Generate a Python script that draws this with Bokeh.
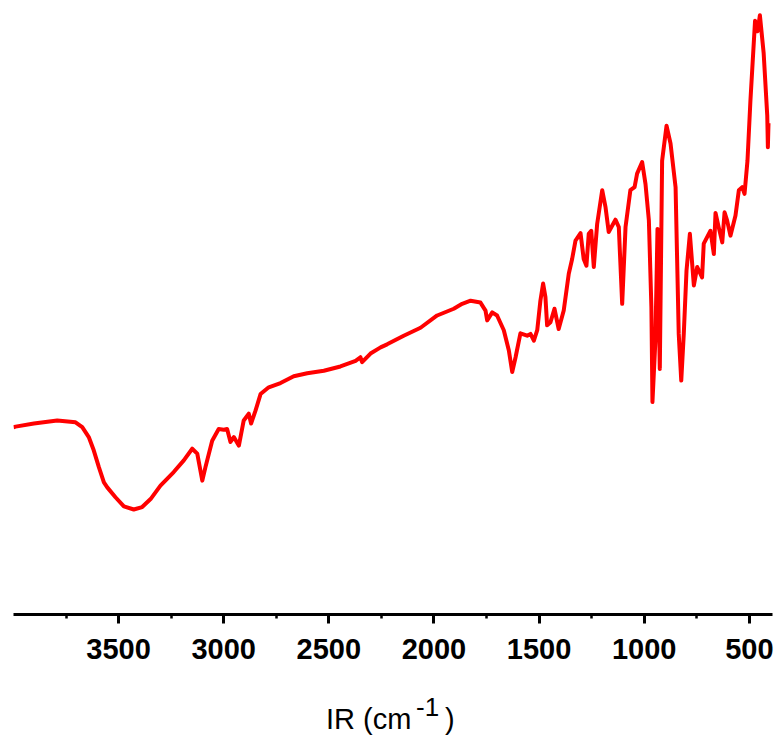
from bokeh.plotting import figure
from bokeh.models import Range1d, FixedTicker, Label
from bokeh.layouts import column
from bokeh.embed import file_html
from bokeh.resources import INLINE

# IR spectrum (wavenumber in cm^-1, transmittance in arbitrary %)
wavenumber = [4000, 3990, 3903, 3792, 3705, 3673, 3642, 3618, 3594, 3570, 3554, 3515, 3475,
              3428, 3388, 3348, 3301, 3238, 3190, 3150, 3126, 3102, 3087, 3055, 3024, 3000,
              2984, 2968, 2952, 2928, 2905, 2881, 2870, 2849, 2825, 2786, 2730, 2667, 2603,
              2524, 2445, 2373, 2350, 2342, 2302, 2254, 2223, 2144, 2064, 1985, 1906, 1866,
              1826, 1779, 1755, 1747, 1723, 1700, 1668, 1644, 1628, 1612, 1589, 1557, 1541,
              1525, 1509, 1494, 1481, 1470, 1462, 1446, 1427, 1407, 1383, 1359, 1343, 1327,
              1303, 1288, 1275, 1264, 1252, 1240, 1224, 1200, 1184, 1169, 1137, 1121, 1105,
              1089, 1066, 1046, 1034, 1010, 994, 978, 966, 961, 947, 937, 926, 915, 894, 875,
              851, 836, 824, 812, 799, 783, 772, 764, 748, 725, 717, 685, 669, 661, 646, 629,
              618, 606, 590, 566, 550, 534, 523, 509, 495, 473, 461, 450, 432, 415, 412, 409]
transmittance = [30.5, 30.6, 31.1, 31.6, 31.3, 30.5, 28.9, 26.7, 24.0, 21.5, 20.7, 19.1, 17.6,
                 17.1, 17.5, 18.8, 21.0, 23.2, 25.1, 27.0, 26.2, 21.8, 24.0, 28.3, 30.2, 30.1,
                 30.2, 28.1, 28.9, 27.5, 31.6, 32.7, 31.1, 33.2, 35.9, 37.0, 37.7, 38.8, 39.3,
                 39.7, 40.4, 41.3, 41.9, 41.1, 42.5, 43.5, 44.0, 45.4, 46.7, 48.7, 49.8, 50.6,
                 51.1, 50.8, 49.5, 47.9, 49.2, 48.7, 46.3, 43.0, 39.5, 41.9, 45.8, 45.4, 45.7,
                 44.6, 46.3, 51.1, 53.9, 51.7, 47.1, 47.6, 49.8, 46.5, 49.5, 55.5, 57.9, 60.9,
                 62.1, 57.9, 56.8, 62.0, 62.5, 56.6, 63.6, 69.1, 66.3, 62.3, 64.3, 63.1, 50.6,
                 63.1, 69.1, 69.6, 71.8, 73.7, 70.1, 64.2, 50.0, 34.6, 44.6, 62.8, 40.0, 73.9,
                 79.6, 76.7, 69.6, 45.7, 38.1, 45.7, 56.0, 62.0, 57.1, 53.6, 56.6, 54.9, 60.4,
                 62.5, 58.7, 65.4, 63.1, 60.6, 65.5, 64.2, 61.7, 65.0, 69.1, 69.6, 68.5, 73.9,
                 83.7, 96.7, 95.0, 97.6, 91.4, 81.3, 76.1, 80.0]

major_ticks = [500, 1000, 1500, 2000, 2500, 3000, 3500]
minor_ticks = [750, 1250, 1750, 2250, 2750, 3250, 3750]
x_title = ["IR (cm", "-1", ")"]

p = figure(width=779, height=680, output_backend="svg", toolbar_location=None,
           x_range=Range1d(4000, 390), y_range=Range1d(0, 100),
           y_axis_location=None, x_axis_location="below",
           min_border_left=13, min_border_right=7, min_border_top=0, min_border_bottom=66)
p.outline_line_color = None
p.grid.visible = False
p.background_fill_color = "white"
p.border_fill_color = "white"

p.line(wavenumber, transmittance, line_color="#FF0000", line_width=4, line_join="round")

ax = p.xaxis[0]
ax.ticker = FixedTicker(ticks=major_ticks, minor_ticks=minor_ticks)
ax.axis_line_width = 3
ax.axis_line_color = "black"
ax.major_tick_line_width = 3
ax.major_tick_out = 9
ax.major_tick_in = 0
ax.minor_tick_line_width = 2.5
ax.minor_tick_out = 4
ax.minor_tick_in = 0
ax.major_label_text_font = "Liberation Sans"
ax.major_label_text_font_style = "bold"
ax.major_label_text_font_size = "29px"
ax.major_label_text_color = "black"
ax.major_label_standoff = 15

# Axis title strip below the chart (with a raised superscript)
t = figure(width=779, height=56, output_backend="svg", toolbar_location=None,
           x_range=Range1d(0, 1), y_range=Range1d(0, 1),
           x_axis_location=None, y_axis_location=None,
           min_border_left=13, min_border_right=7, min_border_top=0, min_border_bottom=0)
t.outline_line_color = None
t.grid.visible = False
t.background_fill_color = "white"
t.border_fill_color = "white"

lab_font = "Liberation Sans"
t.add_layout(Label(x=312.5, y=18, x_units="screen", y_units="screen", text=x_title[0],
                   text_font=lab_font, text_font_size="29px", text_align="left",
                   text_baseline="alphabetic", text_color="black"))
t.add_layout(Label(x=402.5, y=29.5, x_units="screen", y_units="screen", text=x_title[1],
                   text_font=lab_font, text_font_size="26px", text_align="left",
                   text_baseline="alphabetic", text_color="black"))
t.add_layout(Label(x=431.5, y=18, x_units="screen", y_units="screen", text=x_title[2],
                   text_font=lab_font, text_font_size="29px", text_align="left",
                   text_baseline="alphabetic", text_color="black"))

layout = column(p, t, spacing=0)
open("out.html", "w").write(file_html(layout, INLINE))
